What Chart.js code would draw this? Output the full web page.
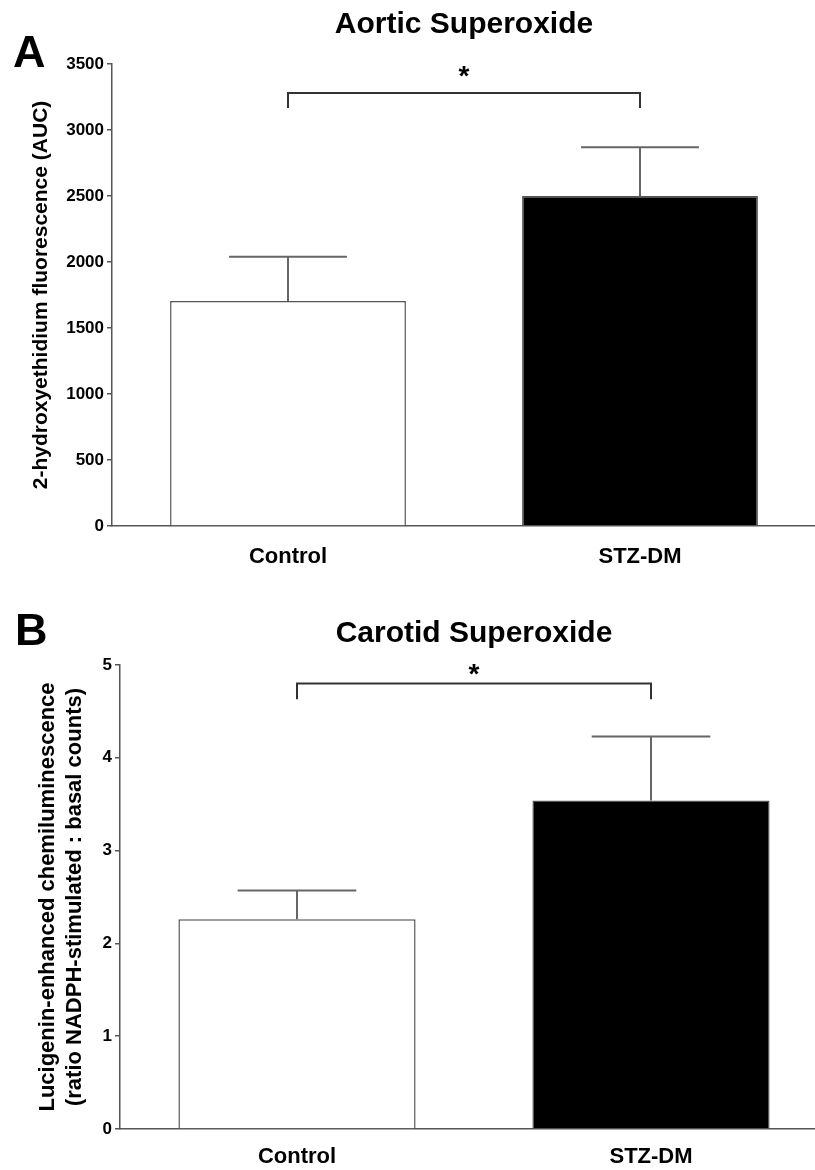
<!DOCTYPE html>
<html>
<head>
<meta charset="utf-8">
<script src="https://cdn.jsdelivr.net/npm/chart.js@4.4.1/dist/chart.umd.min.js"></script>
<style>
  html, body { margin: 0; padding: 0; background: #fff; overflow: hidden; }
  .panel { position: absolute; left: 0; }
</style>
</head>
<body>
<div class="panel" style="top:0px"><canvas id="chartA" width="830" height="585"></canvas></div>
<div class="panel" style="top:600px"><canvas id="chartB" width="835" height="570"></canvas></div>
<script>
// groups and values
var groups = ['Control', 'STZ-DM'];
var aorticMean = [1705, 2500];
var aorticSem = [335, 370];
var carotidMean = [2.26, 3.54];
var carotidSem = [0.31, 0.69];
var barColors = ['#ffffff', '#000000'];
// significance bracket: [top, leg end, star]
var aorticBracket = [3280, 3167, 3440];
var carotidBracket = [4.80, 4.63, 4.94];

var FONT = "'Liberation Sans', Arial, sans-serif";

// error bars, bracket, star, title and panel letter
var extras = {
  id: 'extras',
  afterDatasetsDraw: function(chart, args, opts) {
    var ctx = chart.ctx;
    var y = chart.scales.y;
    var bars = chart.getDatasetMeta(0).data;
    var area = chart.chartArea;
    ctx.save();
    ctx.strokeStyle = '#666';
    ctx.lineWidth = 2;
    bars.forEach(function(bar, i) {
      var top = y.getPixelForValue(opts.mean[i] + opts.err[i]);
      var half = bar.width / 4;
      ctx.beginPath();
      ctx.moveTo(bar.x, bar.y);
      ctx.lineTo(bar.x, top);
      ctx.moveTo(bar.x - half, top);
      ctx.lineTo(bar.x + half, top);
      ctx.stroke();
    });

    var bt = y.getPixelForValue(opts.bracket[0]);
    var bl = y.getPixelForValue(opts.bracket[1]);
    ctx.strokeStyle = '#333';
    ctx.lineWidth = 2;
    ctx.beginPath();
    ctx.moveTo(bars[0].x, bl);
    ctx.lineTo(bars[0].x, bt);
    ctx.lineTo(bars[1].x, bt);
    ctx.lineTo(bars[1].x, bl);
    ctx.stroke();

    ctx.fillStyle = '#000';
    ctx.textAlign = 'center';
    ctx.textBaseline = 'middle';
    ctx.font = 'bold 28px ' + FONT;
    ctx.fillText('*', (bars[0].x + bars[1].x) / 2, y.getPixelForValue(opts.bracket[2]) + 5);

    ctx.textBaseline = 'alphabetic';
    ctx.font = 'bold 30px ' + FONT;
    ctx.fillText(opts.title, (area.left + area.right) / 2, opts.titleY);

    ctx.textAlign = 'left';
    ctx.font = 'bold 45px ' + FONT;
    ctx.fillText(opts.letter, opts.letterX, opts.letterY);
    ctx.restore();
  }
};

function makeChart(id, mean, err, bracket, cfg) {
  var tickFont = { family: FONT, size: 17, weight: 'bold' };
  var catFont = { family: FONT, size: 22, weight: 'bold' };
  return new Chart(document.getElementById(id).getContext('2d'), {
    type: 'bar',
    data: {
      labels: groups,
      datasets: [{
        data: mean,
        backgroundColor: barColors,
        borderColor: '#555',
        borderWidth: 1.5,
        barPercentage: 0.67,
        categoryPercentage: 1
      }]
    },
    options: {
      responsive: false,
      animation: false,
      layout: { padding: { top: cfg.top, right: cfg.right, left: 0, bottom: 0 } },
      plugins: {
        legend: { display: false },
        tooltip: { enabled: false },
        extras: {
          mean: mean, err: err, bracket: bracket,
          title: cfg.title, titleY: cfg.titleY,
          letter: cfg.letter, letterX: cfg.letterX, letterY: cfg.letterY
        }
      },
      scales: {
        x: {
          grid: { drawOnChartArea: false, drawTicks: false },
          border: { color: '#555', width: 1.5 },
          ticks: { font: catFont, color: '#000', padding: cfg.xPad },
          afterFit: function(s) { s.height = cfg.xHeight; }
        },
        y: {
          min: 0,
          max: cfg.max,
          ticks: {
            stepSize: cfg.step, font: tickFont, color: '#000', padding: 3,
            callback: function(v) { return String(v); }
          },
          grid: { drawOnChartArea: false, drawTicks: true, tickLength: 5, color: '#555', lineWidth: 1.5 },
          border: { color: '#555', width: 1.5 },
          title: {
            display: true,
            text: cfg.yTitle,
            font: { family: FONT, size: cfg.yTitleSize, weight: 'bold' },
            color: '#000',
            padding: { top: cfg.yTitlePad, bottom: 0 }
          },
          afterFit: function(s) { s.width = cfg.yWidth; }
        }
      }
    },
    plugins: [extras]
  });
}

makeChart('chartA', aorticMean, aorticSem, aorticBracket, {
  top: 64, right: 14, xHeight: 59, xPad: 18, yWidth: 112,
  max: 3500, step: 500,
  yTitle: '2-hydroxyethidium fluorescence (AUC)', yTitleSize: 21, yTitlePad: 29,
  title: 'Aortic Superoxide', titleY: 33,
  letter: 'A', letterX: 13, letterY: 67
});

makeChart('chartB', carotidMean, carotidSem, carotidBracket, {
  top: 65, right: 7, xHeight: 41, xPad: 15, yWidth: 120,
  max: 5, step: 1,
  yTitle: ['Lucigenin-enhanced chemiluminescence', '(ratio NADPH-stimulated : basal counts)'],
  yTitleSize: 22, yTitlePad: 35,
  title: 'Carotid Superoxide', titleY: 42,
  letter: 'B', letterX: 15, letterY: 45
});
</script>
</body>
</html>
